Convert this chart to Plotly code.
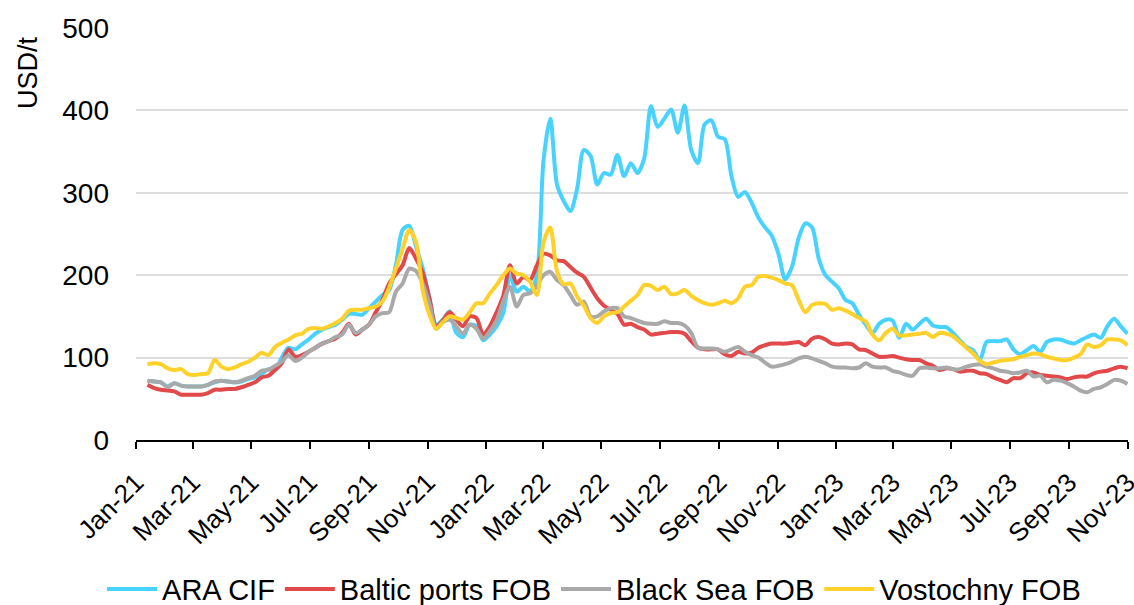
"""
    Weekly price chart: ARA CIF, Baltic ports FOB, Black Sea FOB, Vostochny FOB
"""

##########==========##########==========##########==========##########==========
## INITIALIZE ENVIRONMENT

## libraries
import pandas as pd
import plotly.graph_objects as go

## data (USD/t, weekly from 13 Jan 2021)
weeks = pd.date_range('2021-01-13', periods = 147, freq = '7D')

ara_cif = [
    72, 71, 70, 65, 69, 66, 65, 65, 65, 67, 70, 72, 71, 70, 71, 74, 76, 80, 86, 85,
    100, 112, 110, 116, 122, 129, 134, 137, 140, 146, 153, 153, 152, 160, 168,
    176, 182, 212, 255, 260, 235, 208, 172, 140, 146, 156, 130, 125, 140, 138,
    121, 128, 138, 154, 200, 180, 186, 180, 200, 340, 390, 310, 290, 278, 305,
    352, 345, 310, 324, 322, 346, 320, 336, 324, 342, 405, 380, 390, 401, 373,
    406, 352, 336, 383, 388, 368, 365, 320, 295, 301, 288, 270, 258, 248, 226,
    195, 210, 245, 263, 258, 220, 200, 192, 184, 170, 166, 152, 140, 130, 141,
    146, 145, 124, 141, 134, 141, 147, 139, 137, 137, 130, 121, 113, 109, 97,
    119, 120, 120, 122, 110, 104, 109, 114, 107, 119, 122, 122, 119, 117, 121,
    125, 128, 124, 138, 147, 138, 129,
]

baltic_fob = [
    67, 63, 61, 60, 59, 55, 55, 55, 55, 57, 61, 61, 62, 62, 64, 67, 70, 76, 78, 85,
    93, 110, 101, 103, 107, 112, 117, 120, 123, 130, 141, 128, 134, 140, 155,
    170, 190, 201, 212, 233, 220, 203, 172, 138, 145, 155, 146, 138, 150, 148,
    128, 138, 155, 175, 212, 190, 198, 194, 212, 226, 224, 218, 217, 210, 203,
    198, 185, 172, 163, 158, 153, 140, 141, 137, 134, 128, 129, 130, 131, 131,
    129, 120, 112, 110, 110, 110, 104, 102, 107, 105, 106, 112, 115, 117, 117,
    117, 118, 119, 115, 123, 125, 122, 117, 116, 117, 116, 110, 109, 105, 101,
    101, 102, 100, 98, 97, 97, 93, 90, 85, 87, 86, 83, 84, 84, 81,
    80, 76, 73, 70, 75, 75, 81, 82, 79, 78, 77, 76, 74, 76, 77,
    77, 81, 83, 84, 87, 89, 87,
]

black_sea_fob = [
    72, 71, 70, 64, 69, 66, 65, 65, 65, 67, 71, 72, 71, 70, 72, 75, 78, 84, 85, 90,
    95, 103, 96, 100, 107, 112, 117, 120, 125, 128, 140, 130, 134, 140, 150,
    154, 155, 180, 190, 208, 205, 190, 165, 135, 143, 146, 138, 129, 140, 135,
    123, 132, 145, 168, 186, 162, 176, 178, 187, 200, 204, 194, 188, 176, 164,
    168, 150, 150, 156, 160, 160, 150, 148, 145, 142, 141, 141, 144, 142, 142,
    139, 130, 112, 111, 111, 110, 107, 110, 113, 107, 103, 100, 94, 89, 90,
    92, 95, 99, 101, 99, 96, 93, 89, 88, 88, 87, 88, 93, 89, 88,
    88, 84, 82, 79, 78, 87, 88, 87, 87, 88, 86, 86, 89, 91, 92,
    89, 87, 84, 83, 81, 82, 84, 77, 78, 70, 73, 72, 69, 65, 60,
    58, 62, 64, 68, 73, 72, 68,
]

vostochny_fob = [
    92, 93, 92, 87, 85, 86, 80, 79, 80, 81, 97, 89, 86, 88, 92, 95, 100, 106, 103, 113,
    118, 122, 127, 129, 135, 136, 135, 138, 142, 147, 157, 158, 158, 160, 162,
    168, 185, 208, 232, 255, 240, 182, 152, 135, 143, 150, 148, 146, 155, 166,
    166, 178, 188, 200, 208, 202, 200, 192, 176, 240, 258, 205, 189, 190, 174,
    163, 148, 142, 150, 154, 155, 162, 169, 176, 188, 187, 182, 186, 177, 178,
    182, 175, 170, 166, 164, 166, 169, 166, 172, 186, 188, 198, 199, 197, 194,
    190, 188, 170, 155, 164, 166, 165, 158, 160, 157, 153, 148, 144, 128, 121,
    130, 135, 127, 127, 128, 129, 130, 125, 130, 129, 126, 119, 112, 105, 96,
    92, 94, 96, 97, 98, 101, 103, 105, 104, 101, 99, 97, 97, 100, 104,
    116, 113, 115, 122, 122, 121, 115,
]

series_names = ['ARA CIF', 'Baltic ports FOB', 'Black Sea FOB', 'Vostochny FOB']
series_colors = ['#48D2FF', '#E2494A', '#A9A9A9', '#FFD12A']

## x tick positions: every second month, Jan-21 .. Nov-23
tick_months = pd.date_range('2021-01-01', '2023-11-01', freq = '2MS')
tick_labels = [d.strftime('%b-%y') for d in tick_months]

##########==========##########==========##########==========##########==========
## DEFINE DRAWING FUNCTIONS

FONT = 'Arial, "Liberation Sans", sans-serif'


def draw_background():
    """
        Basic layout: axes, grid, legend
    """
    global fig
    fig = go.Figure()
    fig.update_layout(
        width = 1134, height = 605,
        margin = dict(l = 136, r = 6, t = 28, b = 165, autoexpand = False),
        plot_bgcolor = 'white', paper_bgcolor = 'white',
        font = dict(family = FONT, size = 27, color = 'black'),
        legend = dict(
            orientation = 'h', xref = 'container', yref = 'container',
            x = 0.09, xanchor = 'left', y = 0.026, yanchor = 'middle',
            font = dict(size = 29), itemwidth = 50, tracegroupgap = 0,
        ),
    )
    fig.update_xaxes(
        type = 'date', range = ['2021-01-01', '2023-11-01 12:00'],
        tickvals = tick_months, ticktext = tick_labels,
        tickangle = -45, ticks = 'outside', ticklen = 7, tickwidth = 2,
        tickcolor = 'black', showline = True, linecolor = 'black', linewidth = 2,
        showgrid = False, zeroline = False, ticklabelstandoff = 8,
        ticklabeloverflow = 'allow', automargin = False,
        tickfont = dict(size = 26),
    )
    fig.update_yaxes(
        range = [0, 500], dtick = 100, showgrid = True,
        gridcolor = '#DDDDDD', gridwidth = 2, zeroline = False,
        showline = False, ticks = '', ticklabelstandoff = 26,
        automargin = False, tickfont = dict(size = 28),
    )
    fig.add_annotation(
        text = 'USD/t', textangle = -90, showarrow = False,
        xref = 'paper', yref = 'paper', x = -0.109, y = 0.893,
        xanchor = 'center', yanchor = 'middle', font = dict(size = 27),
    )


def draw_series(values, name, color):
    fig.add_trace(go.Scatter(
        x = weeks, y = values, name = name, mode = 'lines',
        line = dict(color = color, width = 4, shape = 'spline', smoothing = 0.8),
    ))


##########==========##########==========##########==========##########==========
## EXECUTE FUNCTIONS

if __name__ == '__main__':

    draw_background()

    for values, name, color in zip(
            [ara_cif, baltic_fob, black_sea_fob, vostochny_fob],
            series_names, series_colors):
        draw_series(values, name, color)

    ## drop the default page margin so the figure sits at the window corner
    fig.write_html(
        'out.html',
        config = {'displayModeBar': False},
        post_script = "document.body.style.margin = '0';",
    )
